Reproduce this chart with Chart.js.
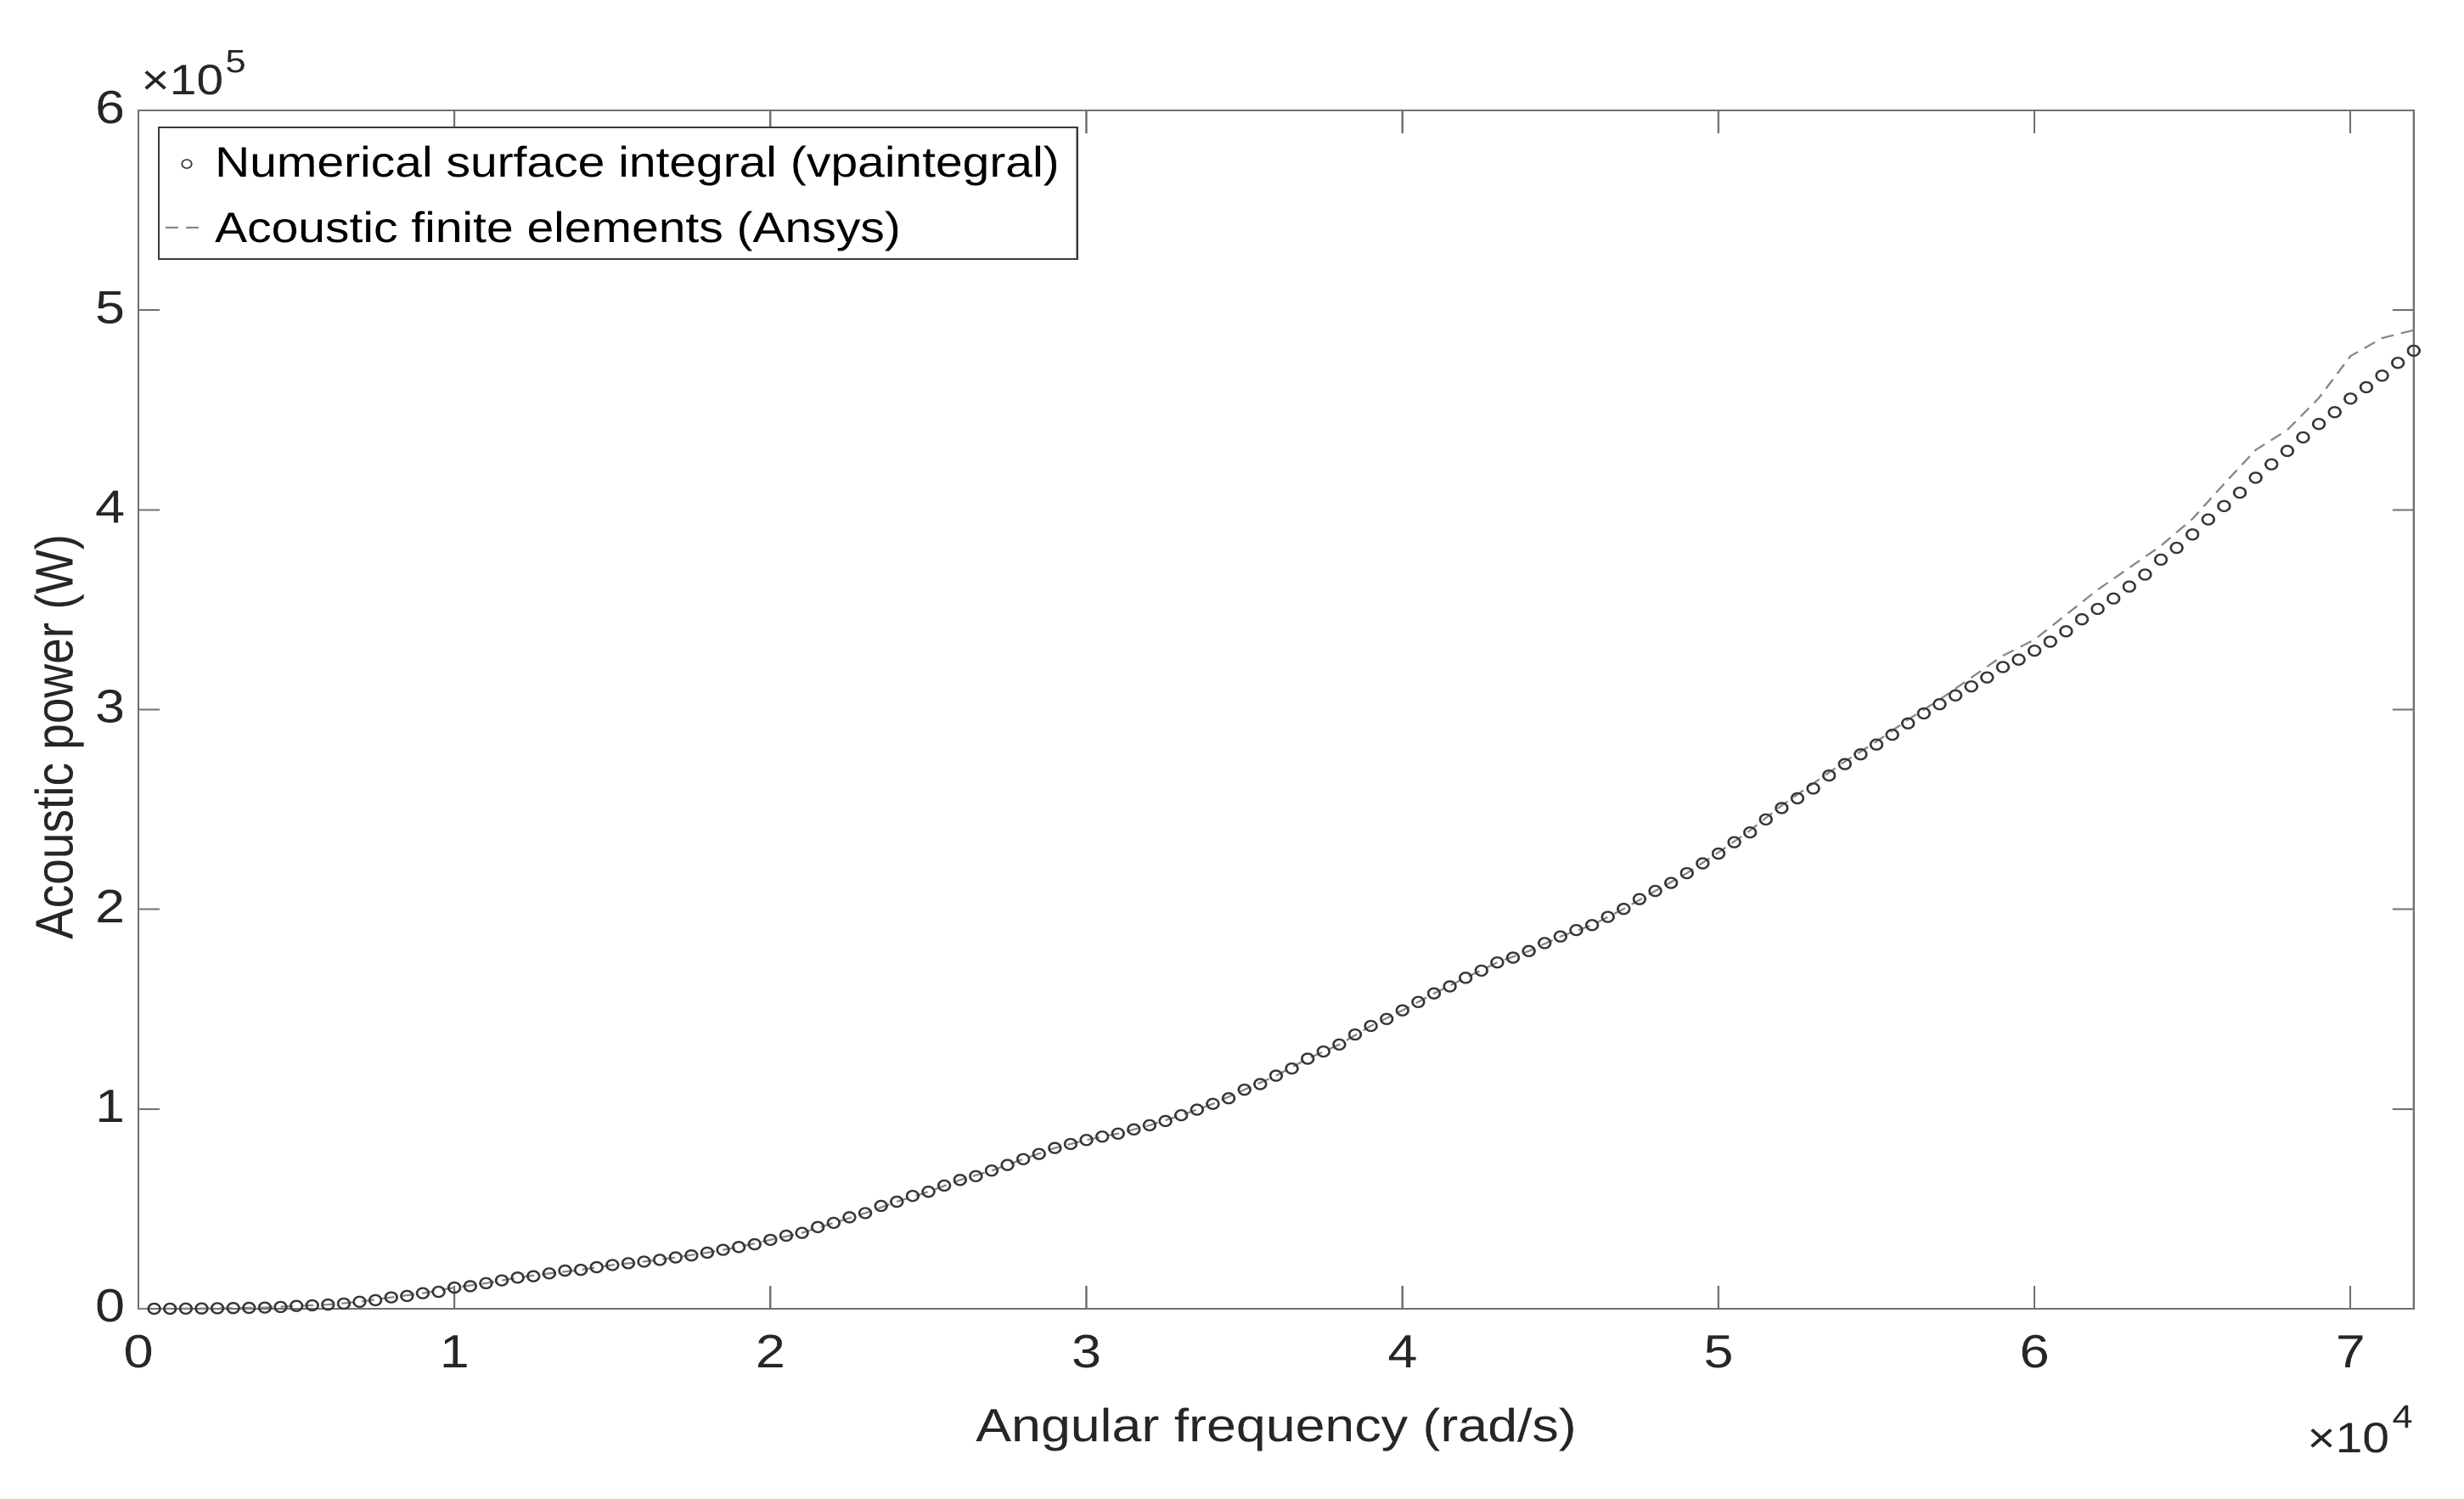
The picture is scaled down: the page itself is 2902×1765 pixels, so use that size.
<!DOCTYPE html>
<html>
<head>
<meta charset="utf-8">
<script src="https://cdn.jsdelivr.net/npm/chart.js@4.4.1/dist/chart.umd.min.js"></script>
<style>
  html, body { margin: 0; padding: 0; background: #ffffff; overflow: hidden; }
  #wrap { position: absolute; left: 0; top: 0; width: 2546px; height: 1765px;
          transform: scaleX(1.13983); transform-origin: 0 0; }
</style>
</head>
<body>
<div id="wrap"><canvas id="c"></canvas></div>
<script>
// ---------------- data ----------------
const legendLabels = ['Numerical surface integral (vpaintegral)', 'Acoustic finite elements (Ansys)'];
const xTitle = 'Angular frequency (rad/s)';
const yTitle = 'Acoustic power (W)';
const xTickValues = [0, 10000, 20000, 30000, 40000, 50000, 60000, 70000];
const xTickLabels = ['0', '1', '2', '3', '4', '5', '6', '7'];
const yTickValues = [0, 100000, 200000, 300000, 400000, 500000, 600000];
const yTickLabels = ['0', '1', '2', '3', '4', '5', '6'];
const xExponent = '4';
const yExponent = '5';

// Numerical surface integral (circles), rad/s
const freqVpa = [
  500, 1000, 1500, 2000, 2500, 3000, 3500, 4000, 4500, 5000,
  5500, 6000, 6500, 7000, 7500, 8000, 8500, 9000, 9500, 10000,
  10500, 11000, 11500, 12000, 12500, 13000, 13500, 14000, 14500, 15000,
  15500, 16000, 16500, 17000, 17500, 18000, 18500, 19000, 19500, 20000,
  20500, 21000, 21500, 22000, 22500, 23000, 23500, 24000, 24500, 25000,
  25500, 26000, 26500, 27000, 27500, 28000, 28500, 29000, 29500, 30000,
  30500, 31000, 31500, 32000, 32500, 33000, 33500, 34000, 34500, 35000,
  35500, 36000, 36500, 37000, 37500, 38000, 38500, 39000, 39500, 40000,
  40500, 41000, 41500, 42000, 42500, 43000, 43500, 44000, 44500, 45000,
  45500, 46000, 46500, 47000, 47500, 48000, 48500, 49000, 49500, 50000,
  50500, 51000, 51500, 52000, 52500, 53000, 53500, 54000, 54500, 55000,
  55500, 56000, 56500, 57000, 57500, 58000, 58500, 59000, 59500, 60000,
  60500, 61000, 61500, 62000, 62500, 63000, 63500, 64000, 64500, 65000,
  65500, 66000, 66500, 67000, 67500, 68000, 68500, 69000, 69500, 70000,
  70500, 71000, 71500, 72000
];
// W
const powerVpa = [
  20, 50, 100, 150, 250, 350, 450, 600, 900, 1400,
  1700, 2100, 2600, 3500, 4300, 5700, 6400, 7800, 8500, 10600,
  11300, 12800, 14200, 15600, 16300, 17700, 19100, 19500, 20800, 21900,
  22800, 23600, 24500, 25700, 26700, 28100, 29500, 30900, 32300, 34500,
  36600, 38000, 40900, 43000, 45800, 47900, 51500, 53600, 56500, 58600,
  61700, 64500, 66400, 69200, 72000, 74900, 77500, 80500, 82500, 84500,
  86200, 87700, 89800, 91900, 94000, 96900, 99700, 102600, 105400, 109700,
  112500, 116700, 120300, 125200, 128800, 132300, 137300, 141600, 145100, 149400,
  153600, 157900, 161400, 165700, 169300, 173400, 175800, 179100, 183100, 186400,
  189600, 192100, 196200, 200200, 205100, 209200, 213200, 218100, 223000, 227900,
  233600, 238500, 245000, 250700, 255600, 260500, 267000, 272700, 277600, 282500,
  287400, 293100, 298100, 302700, 307100, 311600, 316100, 321300, 325000, 329500,
  334000, 339200, 345200, 350400, 355600, 361600, 367600, 375100, 381000, 387700,
  395200, 401900, 408600, 416100, 422800, 429500, 436300, 443000, 448900, 455700,
  461400, 467200, 473600, 479700
];

// Acoustic finite elements (dashed line), rad/s
const freqAnsys = [
  0, 1000, 2000, 3000, 4000, 5000, 6000, 7000, 8000, 9000,
  10000, 11000, 12000, 13000, 14000, 15000, 16000, 17000, 18000, 19000,
  20000, 21000, 22000, 23000, 24000, 25000, 26000, 27000, 28000, 29000,
  30000, 31000, 32000, 33000, 34000, 35000, 36000, 37000, 38000, 39000,
  40000, 41000, 42000, 43000, 44000, 45000, 46000, 47000, 48000, 49000,
  50000, 51000, 52000, 53000, 54000, 55000, 56000, 57000, 58000, 59000,
  60000, 61000, 62000, 63000, 64000, 65000, 66000, 67000, 68000, 69000,
  70000, 71000, 72000
];
// W
const powerAnsys = [
  0, 50, 150, 350, 600, 1400, 2100, 3500, 5700, 7800,
  10600, 12800, 15600, 17700, 19500, 21900, 23600, 25700, 28100, 30900,
  34500, 38000, 43000, 47900, 53600, 58600, 64500, 69200, 74900, 80500,
  84500, 87700, 91900, 96900, 102600, 109700, 116700, 125200, 132300, 141600,
  149400, 157900, 165700, 173400, 179100, 186400, 192100, 200200, 209200, 218100,
  228500, 239500, 252000, 263000, 274000, 284000, 295000, 305000, 316000, 327000,
  335000, 347500, 360000, 371000, 382000, 395500, 413000, 430000, 440000, 456000,
  477000, 486000, 490000
];

// ---------------- style ----------------
const FONT = '"Liberation Sans", Arial, Helvetica, sans-serif';
const TEXT_COLOR = '#262626';
const AXIS_COLOR = '#707070';

function scaleBase(axis, position, min, max, tickValues) {
  return {
    type: 'linear', axis: axis, position: position, min: min, max: max, bounds: 'data',
    afterBuildTicks: (s) => { s.ticks = tickValues.map((v) => ({ value: v })); },
    ticks: { autoSkip: false, maxRotation: 0, minRotation: 0,
             color: TEXT_COLOR, font: { family: FONT, size: 55 } },
    grid: { drawOnChartArea: false, drawTicks: true, color: AXIS_COLOR, tickColor: AXIS_COLOR,
            lineWidth: 2, tickWidth: 2, tickLength: (axis === 'x') ? -27 : -22 },
    border: { display: true, color: AXIS_COLOR, width: 2 }
  };
}

const xScale = scaleBase('x', 'bottom', 0, 72000, xTickValues);
xScale.ticks.padding = 48;
xScale.ticks.callback = (v) => xTickLabels[xTickValues.indexOf(v)];
xScale.title = { display: true, text: xTitle, color: TEXT_COLOR, font: { family: FONT, size: 55 },
                 padding: { top: 0, bottom: 50 } };
xScale.afterFit = (s) => { s.height = 224; };

const yScale = scaleBase('y', 'left', 0, 600000, yTickValues);
yScale.ticks.padding = 36;
yScale.ticks.callback = (v) => yTickLabels[yTickValues.indexOf(v)];
// the y title is drawn by the decor plugin (MATLAB places it slightly below the axis centre)
yScale.title = { display: false, text: yTitle, color: TEXT_COLOR, font: { family: FONT, size: 55 } };
yScale.afterFit = (s) => { s.width = 143; };

const x2Scale = scaleBase('x', 'top', 0, 72000, xTickValues);
x2Scale.ticks.display = false;
x2Scale.afterFit = (s) => { s.height = 0; };

const y2Scale = scaleBase('y', 'right', 0, 600000, yTickValues);
y2Scale.ticks.display = false;
y2Scale.afterFit = (s) => { s.width = 0; };

// legend box, y title and axis exponent labels (MATLAB-like)
const decor = {
  id: 'decor',
  afterDraw(chart) {
    const ctx = chart.ctx;
    const a = chart.chartArea;
    const ds = chart.data.datasets;
    ctx.save();

    // y axis title
    const yt = chart.options.scales.y.title;
    ctx.save();
    ctx.translate(60, (a.top + a.bottom) / 2 + 32);
    ctx.rotate(-Math.PI / 2);
    ctx.fillStyle = TEXT_COLOR;
    ctx.font = '55px ' + FONT;
    ctx.textAlign = 'center';
    ctx.textBaseline = 'middle';
    ctx.fillText(yt.text, 0, 0);
    ctx.restore();

    // legend box
    const bx = a.left + 21, by = a.top + 20, bw = 949, bh = 155;
    ctx.fillStyle = '#ffffff';
    ctx.fillRect(bx, by, bw, bh);
    ctx.strokeStyle = '#3a3a3a';
    ctx.lineWidth = 2;
    ctx.strokeRect(bx, by, bw, bh);
    const row1 = by + 43, row2 = by + 120;
    // marker sample
    ctx.beginPath();
    ctx.arc(bx + 29, row1, 5, 0, Math.PI * 2);
    ctx.strokeStyle = ds[0].pointBorderColor;
    ctx.lineWidth = 1.6;
    ctx.stroke();
    // dashed sample
    ctx.beginPath();
    ctx.setLineDash(ds[1].borderDash);
    ctx.moveTo(bx + 7, row2 - 2);
    ctx.lineTo(bx + 47, row2 - 2);
    ctx.strokeStyle = ds[1].borderColor;
    ctx.lineWidth = ds[1].borderWidth;
    ctx.stroke();
    ctx.setLineDash([]);
    // legend text
    ctx.fillStyle = '#000000';
    ctx.font = '50px ' + FONT;
    ctx.textAlign = 'left';
    ctx.textBaseline = 'middle';
    ctx.fillText(ds[0].label, bx + 58, row1 + 1);
    ctx.fillText(ds[1].label, bx + 58, row2 + 1);

    // exponent labels
    ctx.fillStyle = TEXT_COLOR;
    ctx.textBaseline = 'alphabetic';
    // y: x10^5 top-left
    ctx.font = '50px ' + FONT;
    ctx.textAlign = 'left';
    const base = '\u00D710';
    const wBase = ctx.measureText(base).width;
    ctx.fillText(base, a.left + 3, a.top - 19);
    ctx.font = '38px ' + FONT;
    ctx.fillText(yExponent, a.left + 3 + wBase + 2, a.top - 45);
    // x: x10^4 bottom-right
    ctx.font = '38px ' + FONT;
    ctx.textAlign = 'right';
    const wExp = ctx.measureText(xExponent).width;
    ctx.fillText(xExponent, a.right - 1, 1681);
    ctx.font = '50px ' + FONT;
    ctx.fillText(base, a.right - 1 - wExp - 3, 1710);
    ctx.restore();
  }
};

const canvas = document.getElementById('c');
canvas.width = 2546;
canvas.height = 1765;

new Chart(canvas, {
  type: 'scatter',
  data: {
    datasets: [
      {
        label: legendLabels[0],
        data: freqVpa.map((x, i) => ({ x: x, y: powerVpa[i] })),
        showLine: false,
        pointStyle: 'circle',
        pointRadius: 6,
        pointBorderWidth: 2.3,
        pointBorderColor: '#363636',
        pointBackgroundColor: 'rgba(0,0,0,0)',
        clip: false
      },
      {
        label: legendLabels[1],
        type: 'line',
        data: freqAnsys.map((x, i) => ({ x: x, y: powerAnsys[i] })),
        showLine: true,
        borderColor: '#878787',
        borderWidth: 2.2,
        borderDash: [13, 8],
        pointRadius: 0,
        fill: false,
        tension: 0,
        clip: false
      }
    ]
  },
  options: {
    responsive: false,
    animation: false,
    devicePixelRatio: 2,
    events: [],
    layout: { padding: { left: 0, right: 52, top: 130, bottom: 0 } },
    plugins: { legend: { display: false }, tooltip: { enabled: false } },
    scales: { x: xScale, y: yScale, x2: x2Scale, y2: y2Scale }
  },
  plugins: [decor]
});
</script>
</body>
</html>
